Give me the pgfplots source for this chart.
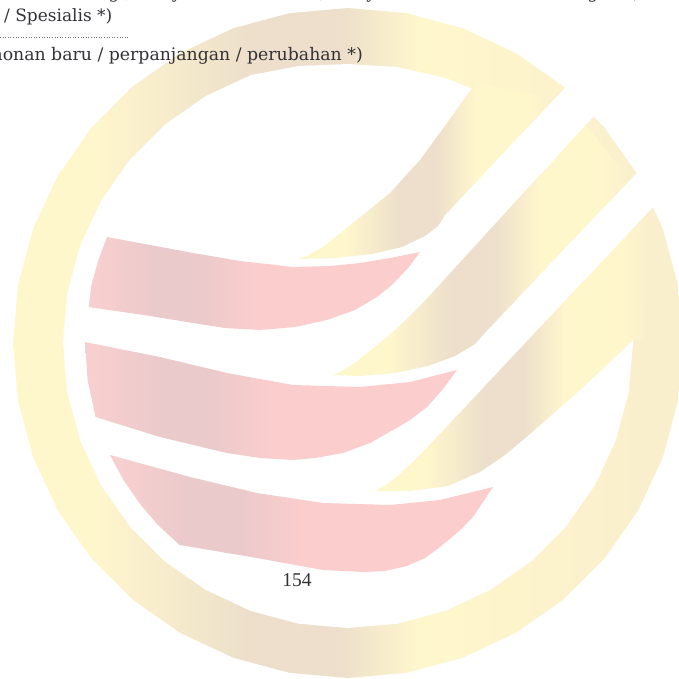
\documentclass[border=0pt]{standalone}
\usepackage{pgfplots}
\pgfplotsset{compat=1.18}
\usepackage{fontspec}
\setmainfont{DejaVu Serif}
\newfontfamily\numfont{Liberation Serif}
\definecolor{gY}{RGB}{255,247,204}
\definecolor{gT}{RGB}{237,223,203}
\definecolor{gY2}{RGB}{250,239,204}
\definecolor{rP}{RGB}{251,205,205}
\definecolor{rM}{RGB}{235,202,203}
\definecolor{rP1}{RGB}{248,207,207}
\definecolor{txt}{RGB}{50,50,55}
\pgfdeclarehorizontalshading{goldring}{100bp}{color(0bp)=(gY); color(25bp)=(gY); color(30.7bp)=(gY); color(42.7bp)=(gT); color(49.4bp)=(gT); color(55.4bp)=(gY); color(72bp)=(gY2); color(100bp)=(gY2)}
\pgfdeclarehorizontalshading{goldstripe}{100bp}{color(0bp)=(gY); color(25bp)=(gY); color(34bp)=(gY); color(45bp)=(gT); color(52bp)=(gT); color(60bp)=(gY); color(70bp)=(gY); color(75bp)=(gY2); color(100bp)=(gY2)}
\pgfdeclarehorizontalshading{redstripe}{100bp}{color(0bp)=(rP1); color(26bp)=(rP1); color(35bp)=(rM); color(42bp)=(rM); color(50bp)=(rP); color(100bp)=(rP)}
\begin{document}
\begin{tikzpicture}
\begin{scope}
\clip (0,0) rectangle (679pt,679pt);
\begin{axis}[at={(0,0)}, anchor=south west, scale only axis, width=679pt, height=679pt,
  xmin=0, xmax=679, ymin=0, ymax=679, y dir=reverse, hide axis, clip=false]
% outer disk of the ring
\addplot[draw=none, shade, shading=goldring] coordinates {
(683,343) (677.9,401.2) (662.8,457.6) (638.1,510.5) (604.6,558.3) (563.3,599.6)
(515.5,633.1) (462.6,657.8) (406.2,672.9) (348,678) (289.8,672.9) (233.4,657.8)
(180.5,633.1) (132.7,599.6) (91.4,558.3) (57.9,510.5) (33.2,457.6) (18.1,401.2)
(13,343) (18.1,284.8) (33.2,228.4) (57.9,175.5) (91.4,127.7) (132.7,86.4)
(180.5,52.9) (233.4,28.2) (289.8,13.1) (348,8) (406.2,13.1) (462.6,28.2)
(515.5,52.9) (563.3,86.4) (604.6,127.7) (638.1,175.5) (662.8,228.4) (677.9,284.8)} -- cycle;
% inner white disk
\addplot[draw=none, fill=white] coordinates {
(633,343) (628.7,392.5) (615.8,440.5) (594.8,485.5) (566.3,526.2) (531.2,561.3)
(490.5,589.8) (445.5,610.8) (397.5,623.7) (348,628) (298.5,623.7) (250.5,610.8)
(205.5,589.8) (164.8,561.3) (129.7,526.2) (101.2,485.5) (80.2,440.5) (67.3,392.5)
(63,343) (67.3,293.5) (80.2,245.5) (101.2,200.5) (129.7,159.8) (164.8,124.7)
(205.5,96.2) (250.5,75.2) (298.5,66) (348,64) (397.5,67) (445.5,78)
(490.5,96.2) (531.2,124.7) (566.3,159.8) (594.8,200.5) (615.8,245.5) (628.7,293.5)} -- cycle;
% yellow stripe 1
\addplot[draw=none, shade, shading=goldstripe] coordinates {
(470,80) (473,87) (447,123) (420,160) (390,193) (353,223) (323,247) (307,256) (298,259)
(335,258) (372,254) (402,247) (425,236) (438,226) (445.1,215) (553.6,100)} -- cycle;
% yellow stripe 2
\addplot[draw=none, shade, shading=goldstripe] coordinates {
(585.7,125) (434.7,290) (425.6,300) (411,315) (395,330) (376,346) (356,362) (340,372) (333,375)
(360,376) (395,373) (428,366) (455,356) (475,344) (487.5,330) (630.1,180)} -- cycle;
% yellow stripe 3
\addplot[draw=none, shade, shading=goldstripe] coordinates {
(645.5,215) (471.8,400) (455,418) (437,437) (418,457) (400,474) (386,485) (376,491)
(410,491) (448,486) (480,472) (505,455) (530,434) (555,412) (580,390) (607,365) (633,340)
(646,340) (648,240)} -- cycle;
% white gaps through the ring
\addplot[draw=none, fill=white] coordinates {(610.2,40) (663.5,40) (539.9,175) (482.8,175)} -- cycle;
\addplot[draw=none, fill=white] coordinates {(677.7,130) (725.3,130) (584.5,280) (535,280)} -- cycle;
% red stripe 1
\addplot[draw=none, shade, shading=redstripe] coordinates {
(107,237) (150,245) (193,253) (240,261) (293,267) (330,266) (360,263) (390,258) (420,252)
(408,268) (393,284) (377,297) (355,310) (327,320) (295,327) (260,330) (225,328) (193,323)
(150,316) (88.7,307) (91.4,285) (98.4,260)} -- cycle;
% red stripe 2
\addplot[draw=none, shade, shading=redstripe] coordinates {
(85,342) (160,357) (227,373) (293,385) (360,387) (410,382) (457,370)
(443,389) (427,407) (410,420) (393,430) (370,443) (343,453) (315,458) (293,460) (260,458)
(227,453) (160,437) (95.6,417) (87.6,380)} -- cycle;
% red stripe 3
\addplot[draw=none, shade, shading=redstripe] coordinates {
(110,455) (190,477) (257,493) (323,503) (390,505) (440,500) (493,487)
(483,502) (473,517) (457,533) (440,547) (425,558) (407,566) (385,571) (363,572) (323,570)
(257,558) (179.6,545) (158,525) (140.8,505) (123.5,480)} -- cycle;
% dotted rule
\addplot[txt!70, line width=1pt, dash pattern=on 1pt off 1.6pt] coordinates {(0,38) (128,38)};
% text
\node[anchor=base east, inner sep=0, text=txt, font=\fontsize{17}{20}\selectfont] at (axis cs:640,-1) {Dokter Gigi, Pelayanan Kesehatan, Pelayanan Kesehatan Perorangan *)};
\node[anchor=base west, inner sep=0, text=txt, font=\fontsize{17}{20}\selectfont] at (axis cs:4,22) {/ Spesialis *)};
\node[anchor=base east, inner sep=0, text=txt, font=\fontsize{17.3}{20}\selectfont] at (axis cs:363,61) {Permohonan baru / perpanjangan / perubahan *)};
\node[anchor=base, inner sep=0, text=txt, font=\numfont\fontsize{19.5}{22}\selectfont] at (axis cs:297,586) {154};
\end{axis}
\end{scope}
\pgfresetboundingbox
\path[use as bounding box] (0,0) rectangle (679pt,679pt);
\end{tikzpicture}
\end{document}
